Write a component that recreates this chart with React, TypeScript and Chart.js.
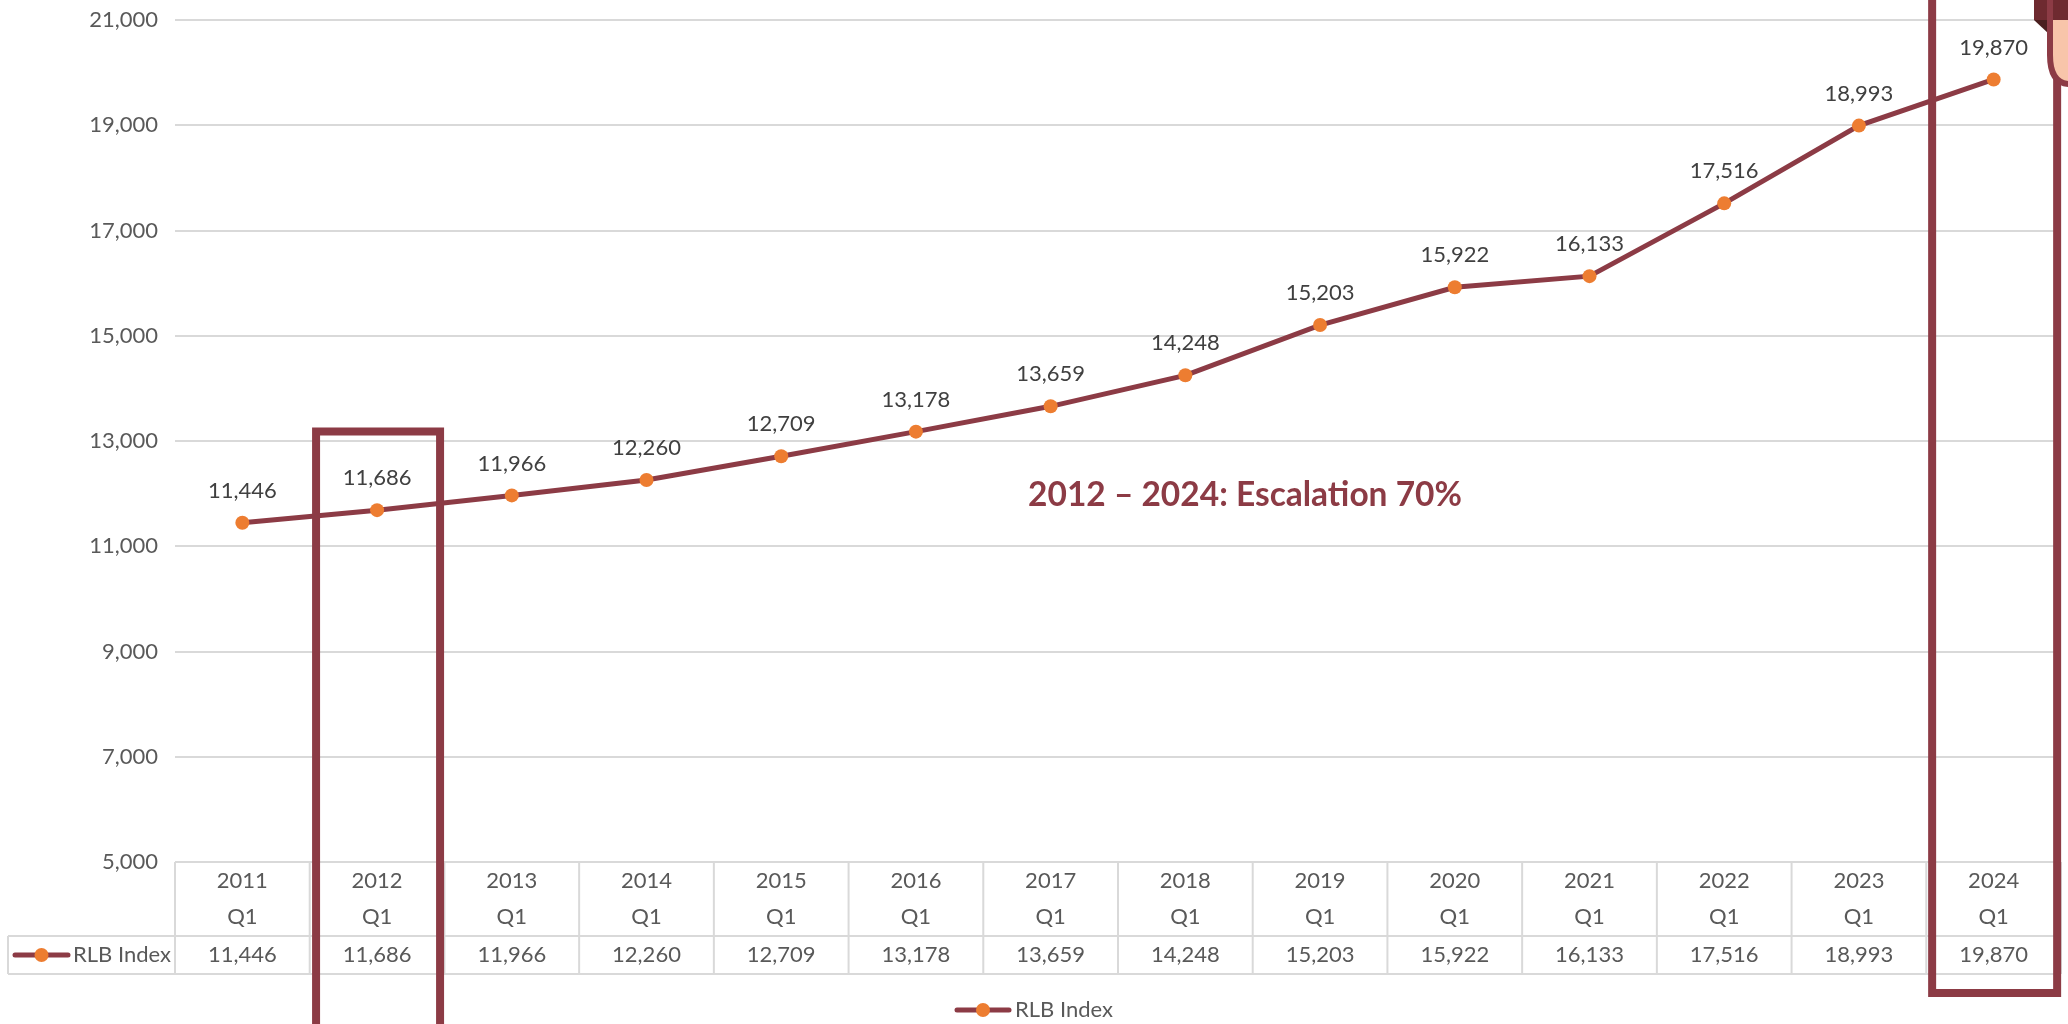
import React, { useEffect, useRef } from "react";
import { Chart, registerables } from "chart.js";

Chart.register(...registerables);

const categories = ["2011", "2012", "2013", "2014", "2015", "2016", "2017", "2018", "2019", "2020", "2021", "2022", "2023", "2024"];
const quarterLabels = ["Q1", "Q1", "Q1", "Q1", "Q1", "Q1", "Q1", "Q1", "Q1", "Q1", "Q1", "Q1", "Q1", "Q1"];
const rlbIndex = [11446, 11686, 11966, 12260, 12709, 13178, 13659, 14248, 15203, 15922, 16133, 17516, 18993, 19870];
const seriesName = "RLB Index";
const yMin = 5000;
const yMax = 21000;
const yStep = 2000;
const annotationText = "2012 – 2024: Escalation 70%";
const highlightedCategories = ["2012", "2024"];

const LINE_COLOR = "#8C3B45";
const MARKER_COLOR = "#ED7D31";
const BOX_COLOR = "#8C3B45";
const GRID_COLOR = "#D9D9D9";
const TEXT_COLOR = "#595959";
const LABEL_COLOR = "#404040";
const FONT = "Lato";
const FONT_SIZE = 22;

const fmt = (v: number) => v.toLocaleString("en-US");

const overlayPlugin = {
  id: "overlay",
  afterDatasetsDraw(chart: any) {
    const ctx = chart.ctx as CanvasRenderingContext2D;
    const meta = chart.getDatasetMeta(0);
    ctx.save();
    ctx.font = `${FONT_SIZE}px ${FONT}`;
    ctx.fillStyle = LABEL_COLOR;
    ctx.textAlign = "center";
    ctx.textBaseline = "middle";
    meta.data.forEach((pt: any, i: number) => {
      ctx.fillText(fmt(rlbIndex[i]), pt.x, pt.y - 32);
    });
    ctx.restore();
  },
  afterDraw(chart: any) {
    const ctx = chart.ctx as CanvasRenderingContext2D;
    const area = chart.chartArea;
    const xs = chart.scales.x;
    const ys = chart.scales.y;
    const n = categories.length;
    const left = area.left;
    const right = area.right;
    const colW = (right - left) / n;
    const top = area.bottom;
    const mid = top + 74;
    const bot = top + 112;
    const legendLeft = 8;

    ctx.save();
    // table borders
    ctx.strokeStyle = GRID_COLOR;
    ctx.lineWidth = 2;
    ctx.beginPath();
    ctx.moveTo(left, top);
    ctx.lineTo(right, top);
    ctx.moveTo(legendLeft, mid);
    ctx.lineTo(right, mid);
    ctx.moveTo(legendLeft, bot);
    ctx.lineTo(right, bot);
    for (let i = 0; i <= n; i++) {
      const x = left + i * colW;
      ctx.moveTo(x, top);
      ctx.lineTo(x, bot);
    }
    ctx.moveTo(legendLeft, mid);
    ctx.lineTo(legendLeft, bot);
    ctx.stroke();

    // table text
    ctx.font = `${FONT_SIZE}px ${FONT}`;
    ctx.fillStyle = TEXT_COLOR;
    ctx.textAlign = "center";
    ctx.textBaseline = "middle";
    categories.forEach((c, i) => {
      const cx = xs.getPixelForValue(i);
      ctx.fillText(c, cx, top + 19);
      ctx.fillText(quarterLabels[i], cx, top + 55);
      ctx.fillText(fmt(rlbIndex[i]), cx, mid + 19);
    });

    const drawSymbol = (x0: number, x1: number, yy: number) => {
      ctx.strokeStyle = LINE_COLOR;
      ctx.lineWidth = 5;
      ctx.lineCap = "round";
      ctx.beginPath();
      ctx.moveTo(x0, yy);
      ctx.lineTo(x1, yy);
      ctx.stroke();
      ctx.lineCap = "butt";
      ctx.fillStyle = MARKER_COLOR;
      ctx.beginPath();
      ctx.arc((x0 + x1) / 2, yy, 7, 0, Math.PI * 2);
      ctx.fill();
    };

    // legend in table
    drawSymbol(15, 68, mid + 19);
    ctx.font = `${FONT_SIZE}px ${FONT}`;
    ctx.fillStyle = TEXT_COLOR;
    ctx.textAlign = "left";
    ctx.fillText(seriesName, 73, mid + 19);

    // bottom legend
    const lgY = 1010;
    drawSymbol(957, 1009, lgY);
    ctx.fillStyle = TEXT_COLOR;
    ctx.textAlign = "left";
    ctx.textBaseline = "middle";
    ctx.fillText(seriesName, 1015, lgY);

    // annotation
    let fs = 35;
    ctx.font = `bold ${fs}px ${FONT}`;
    const w = ctx.measureText(annotationText).width;
    fs = fs * 434 / w;
    ctx.font = `bold ${fs}px ${FONT}`;
    ctx.fillStyle = BOX_COLOR;
    ctx.textAlign = "center";
    ctx.textBaseline = "middle";
    ctx.fillText(annotationText, 1245, 495);

    // highlight boxes
    ctx.strokeStyle = BOX_COLOR;
    ctx.lineWidth = 8;
    ctx.lineJoin = "miter";
    const i1 = categories.indexOf(highlightedCategories[0]);
    const c1 = xs.getPixelForValue(i1);
    const t1 = ys.getPixelForValue(13180);
    ctx.beginPath();
    ctx.moveTo(c1 - 61, 1040);
    ctx.lineTo(c1 - 61, t1);
    ctx.lineTo(c1 + 63, t1);
    ctx.lineTo(c1 + 63, 1040);
    ctx.stroke();

    const i2 = categories.indexOf(highlightedCategories[1]);
    const c2 = xs.getPixelForValue(i2);
    ctx.beginPath();
    ctx.moveTo(c2 - 61.5, -20);
    ctx.lineTo(c2 - 61.5, bot + 19);
    ctx.lineTo(c2 + 63.5, bot + 19);
    ctx.lineTo(c2 + 63.5, -20);
    ctx.stroke();

    // top-right partial decoration
    ctx.fillStyle = "#F8C5AA";
    ctx.beginPath();
    ctx.moveTo(2050, 18);
    ctx.lineTo(2070, 18);
    ctx.lineTo(2070, 82);
    ctx.quadraticCurveTo(2050, 82, 2050, 55);
    ctx.closePath();
    ctx.fill();
    ctx.fillStyle = "#6E2A30";
    ctx.fillRect(2034, 0, 36, 20);
    ctx.fillStyle = "#4A1F1F";
    ctx.beginPath();
    ctx.moveTo(2034, 20);
    ctx.lineTo(2050, 20);
    ctx.lineTo(2050, 35);
    ctx.closePath();
    ctx.fill();
    ctx.strokeStyle = BOX_COLOR;
    ctx.lineWidth = 6;
    ctx.beginPath();
    ctx.moveTo(2050, 0);
    ctx.lineTo(2050, 55);
    ctx.quadraticCurveTo(2050, 84, 2070, 84);
    ctx.stroke();
    ctx.restore();
  },
};

export default function App() {
  const canvasRef = useRef<HTMLCanvasElement | null>(null);

  useEffect(() => {
    const canvas = canvasRef.current;
    if (!canvas) return;
    const chart = new Chart(canvas, {
      type: "line",
      data: {
        labels: categories,
        datasets: [
          {
            label: seriesName,
            data: rlbIndex,
            borderColor: LINE_COLOR,
            backgroundColor: LINE_COLOR,
            borderWidth: 5,
            tension: 0,
            pointRadius: 7,
            pointBorderWidth: 0,
            pointBackgroundColor: MARKER_COLOR,
            pointBorderColor: MARKER_COLOR,
            clip: false as any,
          },
        ],
      },
      options: {
        responsive: false,
        animation: false,
        maintainAspectRatio: false,
        layout: { padding: { left: 0, right: 2, top: 20, bottom: 162 } },
        plugins: {
          legend: { display: false },
          tooltip: { enabled: false },
        },
        scales: {
          x: {
            display: false,
            offset: true,
          },
          y: {
            min: yMin,
            max: yMax,
            ticks: {
              stepSize: yStep,
              padding: 17,
              color: TEXT_COLOR,
              font: { family: FONT, size: FONT_SIZE },
              callback: (v: any) => fmt(Number(v)),
            },
            grid: { color: GRID_COLOR, lineWidth: 2, drawTicks: false },
            border: { display: false },
            afterFit: (s: any) => {
              s.width = 175;
              s.paddingTop = 0;
              s.paddingBottom = 0;
            },
          },
        },
      },
      plugins: [overlayPlugin],
    });
    return () => chart.destroy();
  }, []);

  return (
    <div style={{ position: "fixed", left: 0, top: 0, width: 2068, height: 1024, background: "#fff" }}>
      <canvas ref={canvasRef} width={2068} height={1024} style={{ display: "block", width: 2068, height: 1024 }} />
    </div>
  );
}
